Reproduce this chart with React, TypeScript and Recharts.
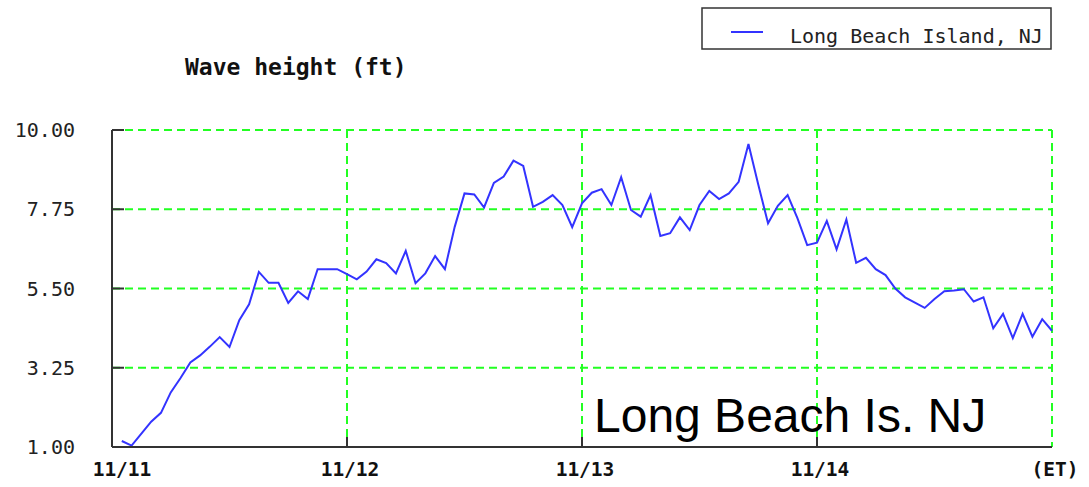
import { LineChart, Line, XAxis, YAxis, CartesianGrid, Legend } from 'recharts';

// hourly wave height (ft), starting 11/11 01:00 ET
const waveHeight = [
    1.17, 1.04, 1.38, 1.72, 1.97, 2.55, 2.96, 3.4, 3.6, 3.85, 4.12, 3.84,
    4.6, 5.05, 5.97, 5.66, 5.66, 5.09, 5.42, 5.2, 6.05, 6.05, 6.05, 5.91,
    5.76, 5.98, 6.33, 6.22, 5.93, 6.57, 5.65, 5.93, 6.42, 6.05, 7.25, 8.2,
    8.17, 7.8, 8.5, 8.68, 9.13, 8.98, 7.82, 7.96, 8.15, 7.87, 7.24, 7.92,
    8.22, 8.32, 7.87, 8.66, 7.73, 7.54, 8.15, 6.99, 7.07, 7.52, 7.16, 7.87,
    8.27, 8.04, 8.2, 8.53, 9.6, 8.45, 7.35, 7.85, 8.15, 7.5, 6.73, 6.8,
    7.42, 6.61, 7.46, 6.23, 6.37, 6.05, 5.88, 5.5, 5.25, 5.1, 4.95, 5.2,
    5.42, 5.44, 5.48, 5.13, 5.25, 4.37, 4.78, 4.09, 4.78, 4.13, 4.63, 4.3,
];

const xTicks = [0, 24, 48, 72, 96];
const xTickLabels = ['11/11', '11/12', '11/13', '11/14', '(ET)'];
const yTicks = [1, 3.25, 5.5, 7.75, 10];

const SERIES_NAME = 'Long Beach Island, NJ';
const LINE_COLOR = '#3333ff';
const GRID_COLOR = '#22ff22';
const AXIS_COLOR = '#333333';
const MONO = '"DejaVu Sans Mono", monospace';

const data = waveHeight.map((v, i) => ({ hour: i + 1, height: v }));

const YTick = ({ x, y, payload }: any) => (
    <g>
        <line x1={x} x2={x + 12} y1={y} y2={y} stroke={AXIS_COLOR} strokeWidth={2} />
        <text x={x - 37} y={y} textAnchor="end" dominantBaseline="central"
            fontFamily={MONO} fontSize={20} fill="#222">
            {payload.value.toFixed(2)}
        </text>
    </g>
);

const XTick = ({ x, y, payload, index }: any) => {
    const i = xTicks.indexOf(payload.value);
    return (
        <g>
            {i > 0 && i < xTicks.length - 1 && (
                <line x1={x} x2={x} y1={y} y2={y - 10} stroke={AXIS_COLOR} strokeWidth={2} />
            )}
            <text x={x + (i === 0 ? 10 : 3)} y={y + 22} textAnchor="middle" dominantBaseline="central"
                fontFamily={MONO} fontWeight="bold" fontSize={19.5} fill="#111">
                {xTickLabels[i >= 0 ? i : index]}
            </text>
        </g>
    );
};

const LegendBox = ({ payload }: any) => (
    <svg width={352} height={44}>
        <rect x={1} y={1} width={349} height={41} fill="#fff" stroke={AXIS_COLOR} strokeWidth={1.5} />
        {(payload || []).map((p: any) => (
            <g key={p.value}>
                <line x1={30} x2={62} y1={25} y2={25} stroke={p.color} strokeWidth={2} />
                <text x={89} y={29} dominantBaseline="central" fontFamily={MONO} fontSize={20} fill="#222">
                    {p.value}
                </text>
            </g>
        ))}
    </svg>
);

export default function App() {
    return (
        <div style={{ position: 'absolute', left: 0, top: 0, width: 1089, height: 487, background: '#fff' }}>
            <LineChart width={1089} height={487} data={data}
                margin={{ top: 130, right: 37, bottom: 0, left: 0 }}>
                <CartesianGrid stroke={GRID_COLOR} strokeWidth={2} strokeDasharray="8 5" />
                <XAxis dataKey="hour" type="number" domain={[0, 96]} ticks={xTicks} interval={0}
                    height={40} tickSize={0} tickMargin={0} tick={<XTick />}
                    axisLine={{ stroke: AXIS_COLOR, strokeWidth: 2 }} />
                <YAxis type="number" domain={[1, 10]} ticks={yTicks} interval={0}
                    width={112} tickSize={0} tickMargin={0} tick={<YTick />}
                    axisLine={{ stroke: AXIS_COLOR, strokeWidth: 2 }} />
                <Legend layout="vertical" align="center" verticalAlign="middle"
                    content={<LegendBox />}
                    wrapperStyle={{ position: 'absolute', left: 701, top: 7, width: 352, height: 44 }} />
                <Line type="linear" dataKey="height" name={SERIES_NAME} stroke={LINE_COLOR}
                    strokeWidth={2} dot={false} isAnimationActive={false} />
            </LineChart>
            <svg width={1089} height={487} style={{ position: 'absolute', left: 0, top: 0, pointerEvents: 'none' }}>
                <text x={185} y={75} fontFamily={MONO} fontWeight="bold" fontSize={23} fill="#111">
                    Wave height (ft)
                </text>
                <text x={594} y={432} fontFamily='"Liberation Sans", Arial, sans-serif' fontSize={48} fill="#000">
                    Long Beach Is. NJ
                </text>
            </svg>
        </div>
    );
}
